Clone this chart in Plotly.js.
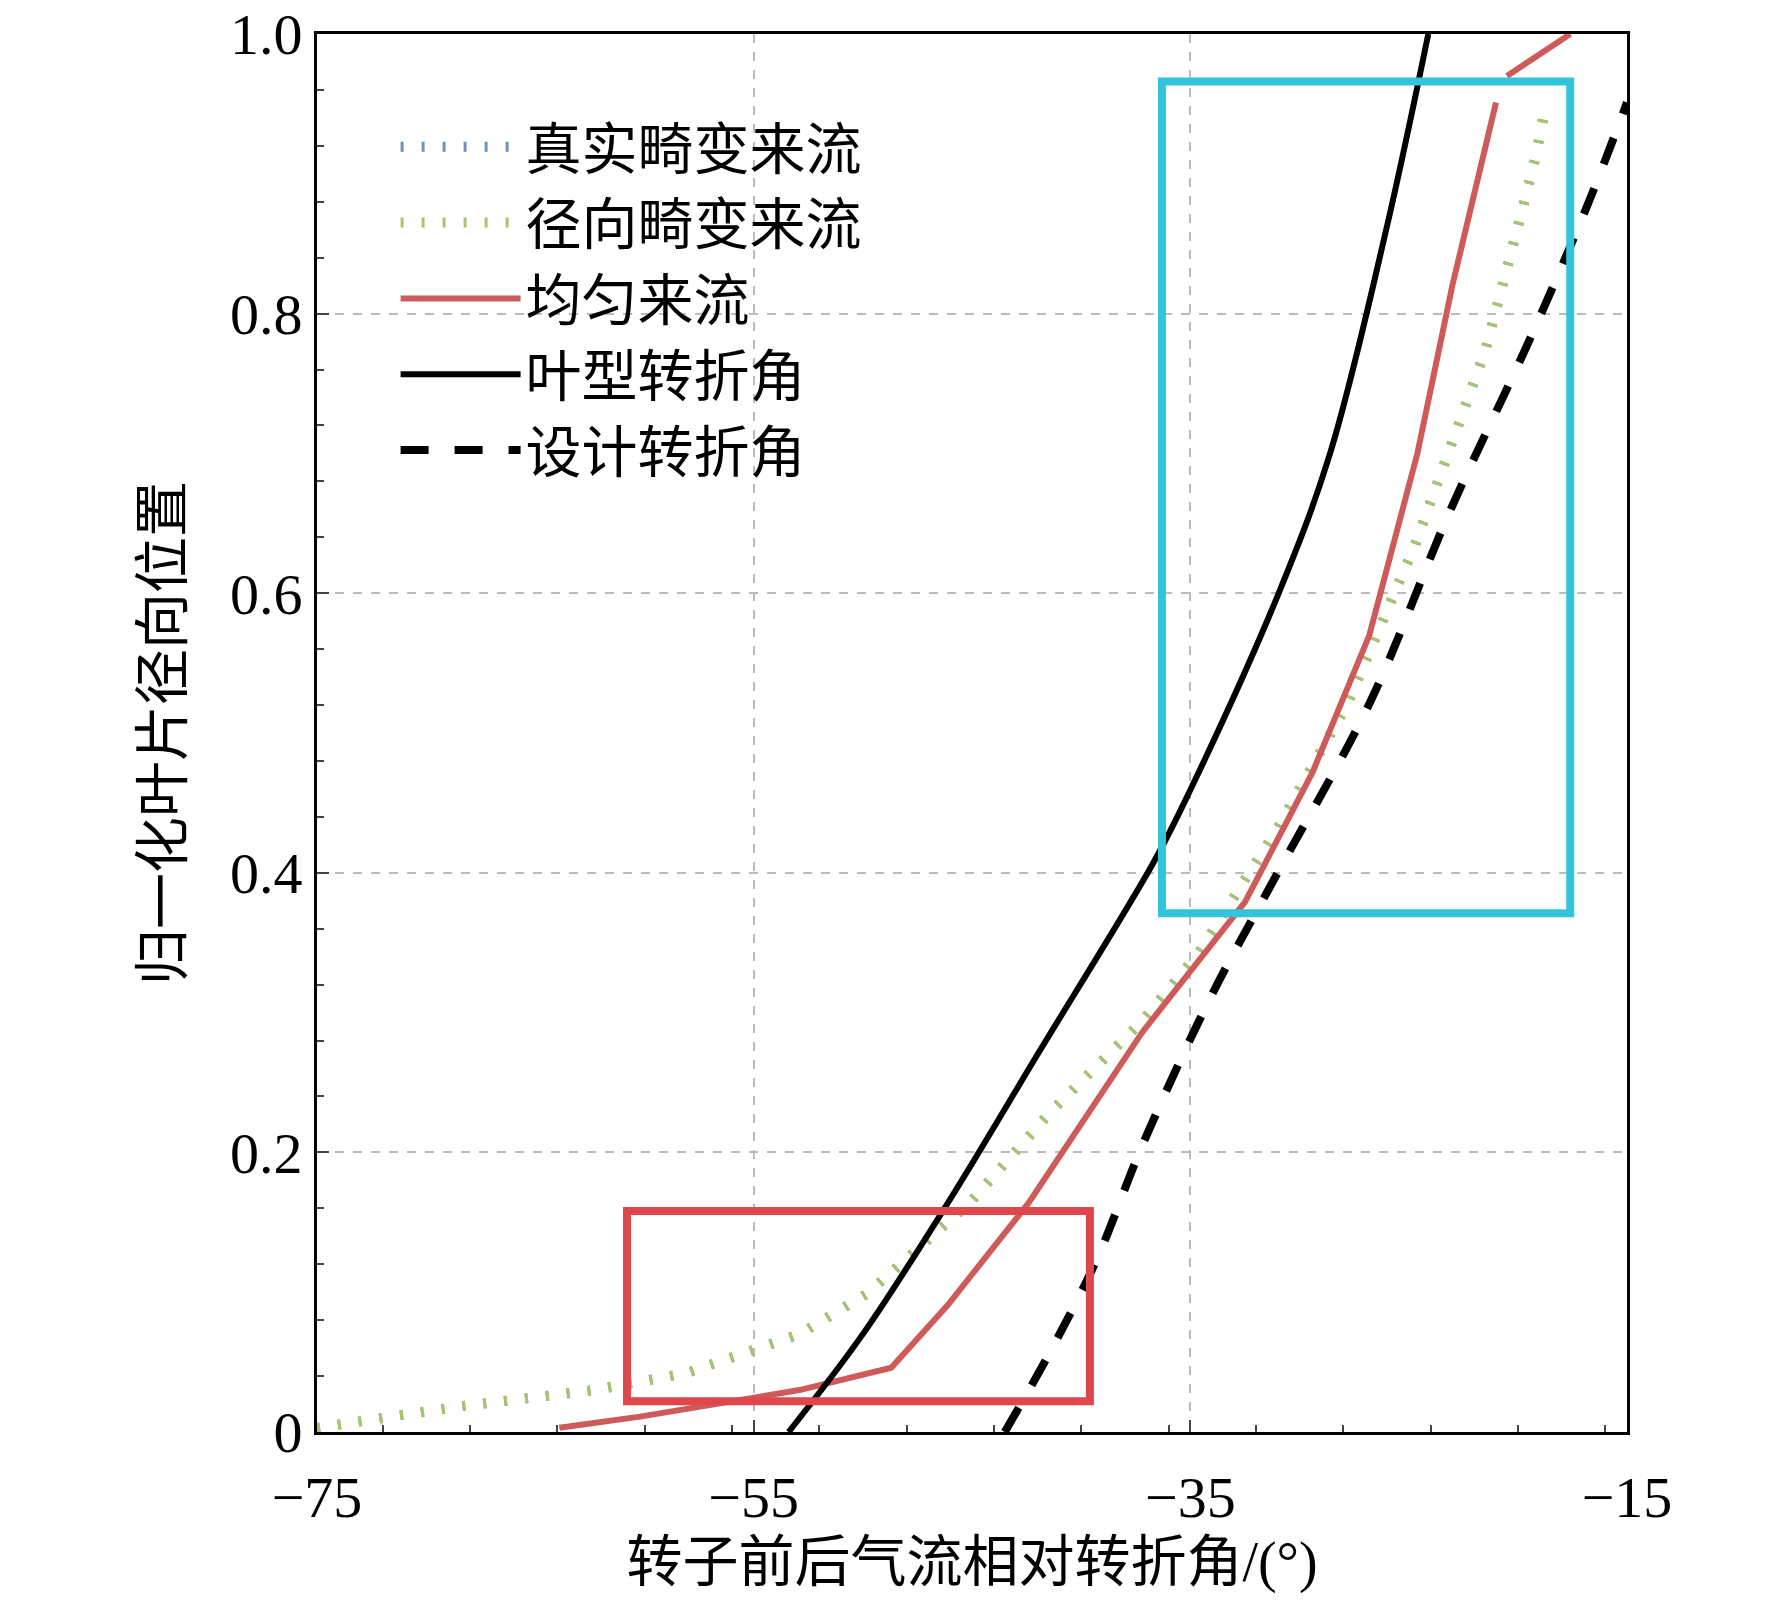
<!DOCTYPE html>
<html><head><meta charset="utf-8">
<script src="https://cdn.plot.ly/plotly-3.0.1.min.js"></script>
<style>body{margin:0;background:#fff}#chart{width:1772px;height:1611px}</style>
</head><body><div id="chart"></div>
<script>
// 叶型转折角
let bladeX = [-53.4, -50.0, -46.1, -42.0, -36.7, -35.1, -30.9, -28.6, -26.0, -24.1];
let bladeY = [0.0, 0.07, 0.164, 0.27, 0.407, 0.456, 0.602, 0.70, 0.862, 1.0];
// 均匀来流
let uniX = [-63.9, -60.2, -52.9, -48.7, -46.1, -42.4, -37.2, -32.5, -29.4, -26.8, -24.6, -23.0, -21.0];
let uniY = [0.003, 0.011, 0.03, 0.046, 0.091, 0.164, 0.286, 0.379, 0.472, 0.570, 0.70, 0.82, 0.951];
let uniTopX = [-20.5, -17.6];
let uniTopY = [0.97, 1.0];
// 径向畸变来流
let radX = [-75, -68.6, -62.3, -58.1, -52.9, -49.8, -45.1, -41.4, -37.2, -34.6, -31.0, -27.8, -24.7, -21.5, -20.0, -19.2, -18.7];
let radY = [0.003, 0.018, 0.03, 0.042, 0.07, 0.099, 0.164, 0.229, 0.294, 0.343, 0.432, 0.521, 0.635, 0.773, 0.862, 0.911, 0.951];
// 真实畸变来流
let realX = [-75, -68.6, -62.3, -58.1, -52.9, -49.8, -45.1, -41.4, -37.2, -34.6, -31.0, -27.8, -24.7, -21.5, -20.0, -19.2, -18.7];
let realY = [0.003, 0.018, 0.03, 0.042, 0.07, 0.099, 0.164, 0.229, 0.294, 0.343, 0.432, 0.521, 0.635, 0.773, 0.862, 0.911, 0.951];
// 设计转折角
let designX = [-43.5, -41.4, -39.3, -37.2, -34.1, -31.0, -26.8, -23.1, -19.5, -16.8, -15.0];
let designY = [0.0, 0.058, 0.123, 0.205, 0.31, 0.40, 0.521, 0.659, 0.78, 0.878, 0.951];
let yTicks = [0, 0.2, 0.4, 0.6, 0.8, 1.0];
let yTickText = ['0', '0.2', '0.4', '0.6', '0.8', '1.0'];
let xTicks = [-75, -55, -35, -15];

let data = [
    {x: realX, y: realY, name: '真实畸变来流', mode: 'lines', line: {color: '#6f93b8', width: 10, dash: '3px,18px'}},
    {x: radX, y: radY, name: '径向畸变来流', mode: 'lines', line: {color: '#a9c46a', width: 10, dash: '3px,18px'}},
    {x: uniX, y: uniY, name: '均匀来流', mode: 'lines', line: {color: '#cf5a5a', width: 6}},
    {x: bladeX, y: bladeY, name: '叶型转折角', mode: 'lines', line: {color: '#000', width: 6, shape: 'spline'}},
    {x: designX, y: designY, name: '设计转折角', mode: 'lines', line: {color: '#000', width: 8, dash: '28px,26px', shape: 'spline'}},
    {x: uniTopX, y: uniTopY, mode: 'lines', showlegend: false, line: {color: '#cf5a5a', width: 6}},
];

let layout = {
    width: 1772, height: 1611,
    margin: {l: 317, r: 145, t: 34, b: 179},
    paper_bgcolor: '#fff', plot_bgcolor: '#fff',
    font: {family: 'Liberation Serif, Noto Sans CJK SC', size: 56, color: '#000'},
    showlegend: true,
    legend: {x: 0.06, y: 0.95, xanchor: 'left', yanchor: 'top', bgcolor: 'rgba(0,0,0,0)',
        font: {size: 56, family: 'Liberation Serif, Noto Sans CJK SC'}, itemwidth: 120, tracegroupgap: 0},
    xaxis: {range: [-75, -15], tickvals: xTicks, ticks: 'inside', ticklen: 12, tickwidth: 2,
        showline: true, linecolor: '#000', linewidth: 3, mirror: true, zeroline: false,
        showgrid: true, gridcolor: '#bbb', griddash: 'dash', gridwidth: 1.5,
        minor: {dtick: 4, ticks: 'inside', ticklen: 7, showgrid: false},
        tickfont: {size: 58}, ticklabelstandoff: 12,
        title: {text: '转子前后气流相对转折角/(°)', font: {size: 56}, standoff: 14}},
    yaxis: {range: [0, 1], tickvals: yTicks, ticktext: yTickText, ticks: 'inside', ticklen: 12, tickwidth: 2,
        showline: true, linecolor: '#000', linewidth: 3, mirror: true, zeroline: false,
        showgrid: true, gridcolor: '#bbb', griddash: 'dash', gridwidth: 1.5,
        minor: {dtick: 0.04, ticks: 'inside', ticklen: 7, showgrid: false},
        tickfont: {size: 58}, title: {text: '归一化叶片径向位置', font: {size: 56}, standoff: 30}},
    shapes: [
        {type: 'rect', xref: 'x', yref: 'y', x0: -60.8, x1: -39.6, y0: 0.022, y1: 0.158, line: {color: '#e0474c', width: 8}},
        {type: 'rect', xref: 'x', yref: 'y', x0: -36.3, x1: -17.6, y0: 0.371, y1: 0.966, line: {color: '#33c3dc', width: 8}},
    ],
};

Plotly.newPlot('chart', data, layout, {displayModeBar: false});
</script></body></html>
